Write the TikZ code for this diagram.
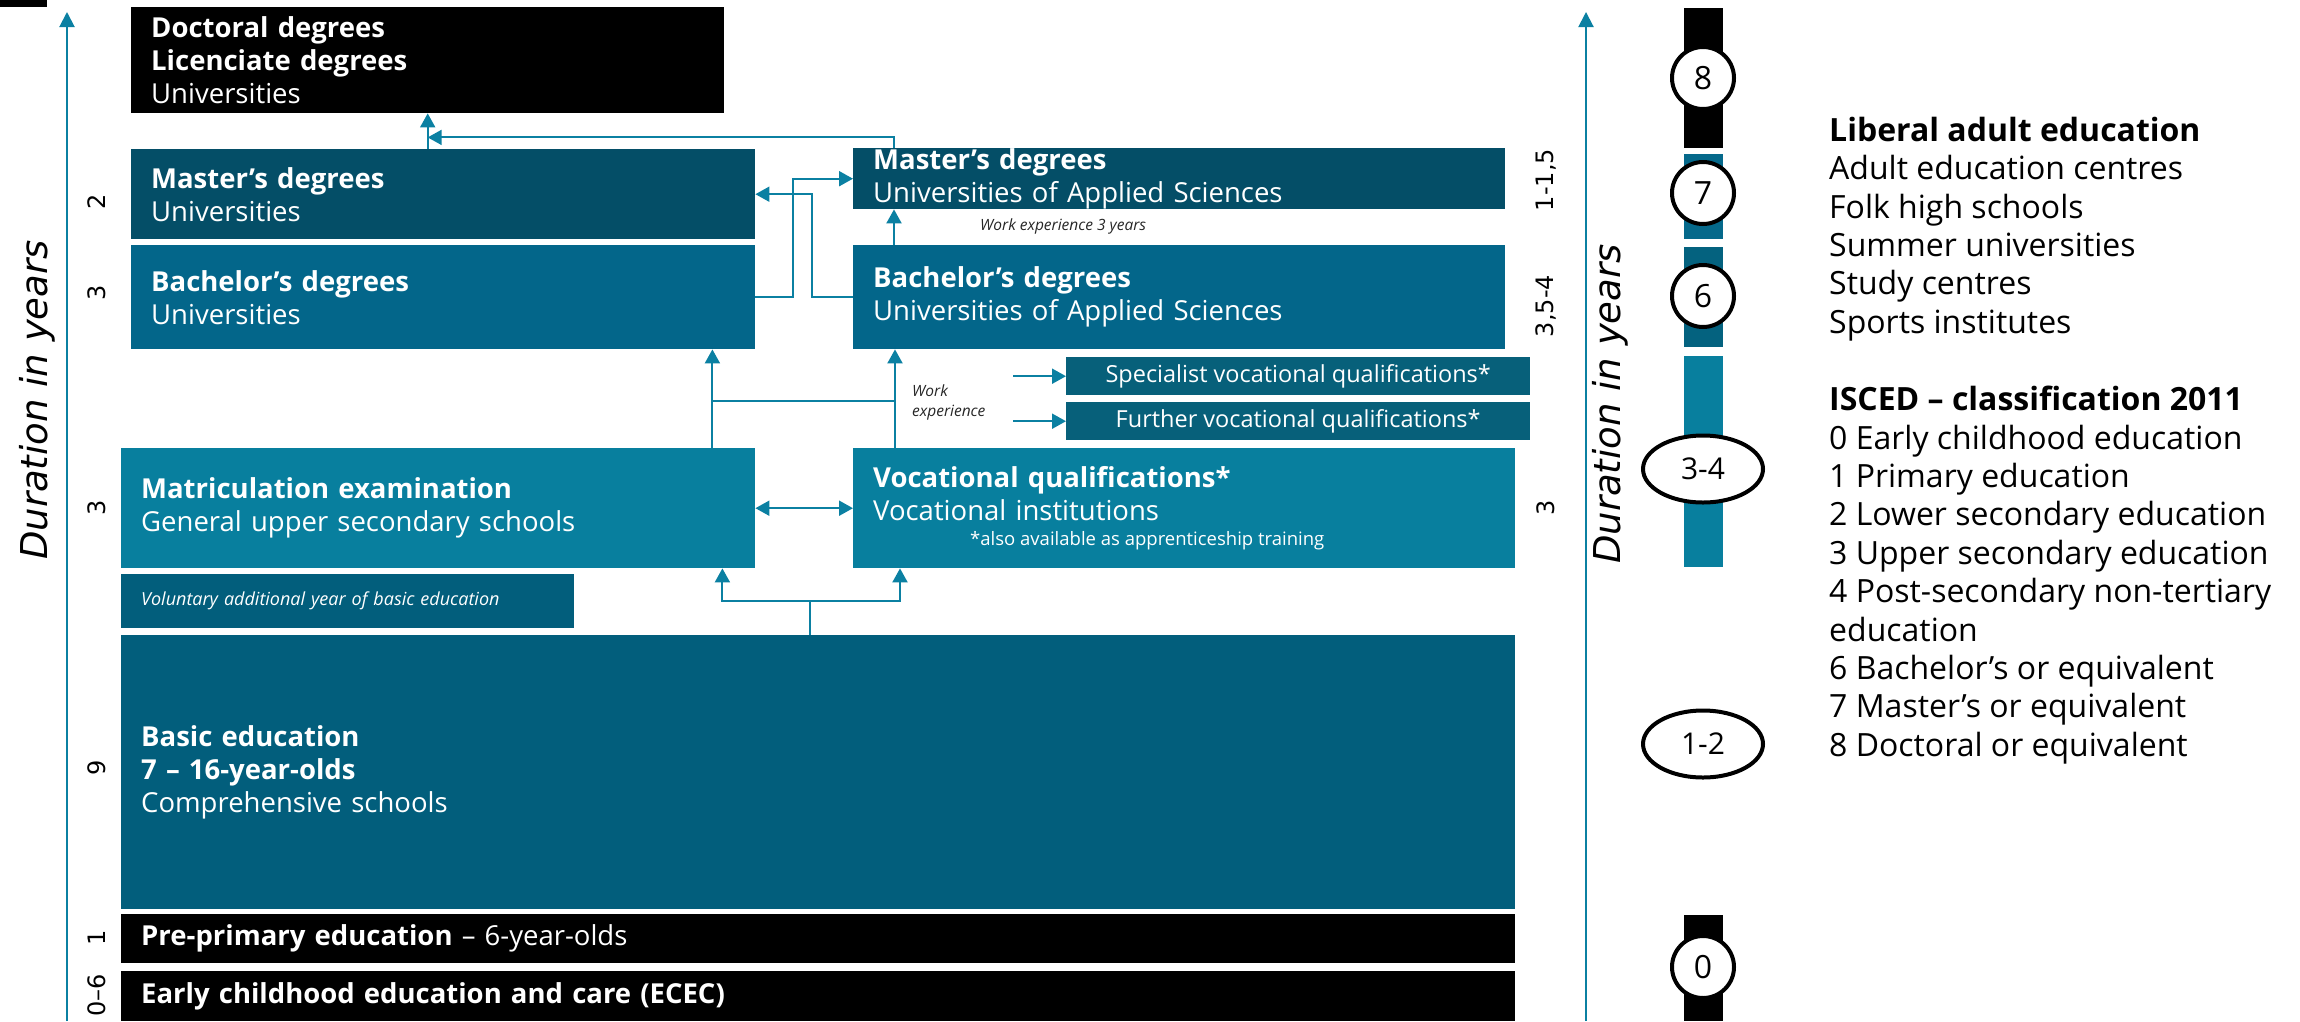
\documentclass[tikz,border=0pt]{standalone}
\usepackage{fontspec}
\setmainfont{Open Sans}
\newfontfamily\dvfont{DejaVu Sans}
\usetikzlibrary{arrows.meta,calc,shapes.geometric}

\definecolor{mastc}{HTML}{044E67}
\definecolor{bachc}{HTML}{03668A}
\definecolor{uppc}{HTML}{087F9E}
\definecolor{basc}{HTML}{025E7C}
\definecolor{specc}{HTML}{07607A}
\definecolor{arrc}{HTML}{0B80A2}
\definecolor{segsev}{HTML}{05698B}
\definecolor{segsix}{HTML}{04627F}

\newcommand{\notefont}{\fontsize{18.5}{21}\selectfont\spaceskip=0pt\relax\xspaceskip=0pt\relax}

\tikzset{
  box/.style={anchor=north west, inner xsep=20pt, inner ysep=0pt, text=white,
    align=left, font=\fontsize{27.5}{33}\selectfont},
  cbox/.style={anchor=north west, inner sep=0pt, text=white, align=center,
    fill=specc, minimum width=464pt, minimum height=38pt,
    font=\fontsize{23.5}{28}\selectfont},
  conn/.style={draw=arrc, line width=2pt, -{Triangle[length=14pt,width=15pt]}},
  both/.style={draw=arrc, line width=2pt,
    {Triangle[length=14pt,width=15pt]}-{Triangle[length=14pt,width=15pt]}},
  line/.style={draw=arrc, line width=2pt},
  axis/.style={draw=arrc, line width=2pt, -{Triangle[length=15pt,width=15pt]}},
  yrs/.style={rotate=90, inner sep=0pt, font=\dvfont\fontsize{24}{28}\selectfont},
  dur/.style={rotate=90, inner sep=0pt, font=\dvfont\itshape\fontsize{37}{44}\selectfont},
  note/.style={inner sep=0pt, align=left, text=black!85,
    font=\itshape\fontsize{15.5}{20}\selectfont},
  lvl/.style={circle, draw=black, line width=4pt, fill=white, inner sep=0pt,
    minimum size=62pt, font=\fontsize{32}{38}\selectfont},
  lvlwide/.style={ellipse, draw=black, line width=4pt, fill=white, inner sep=0pt,
    minimum width=120pt, minimum height=67pt, font=\fontsize{30}{36}\selectfont},
  legend/.style={anchor=west, align=left, inner sep=0pt,
    font=\fontsize{32}{38.4}\selectfont},
}

\begin{document}
\begin{tikzpicture}[x=1pt,y=-1pt]
\useasboundingbox (0,0) rectangle (2300,1021);
\fill (0,0) rectangle (47,7);

% duration axes
\coordinate (lbot) at (67,1021);
\coordinate (ltop) at (67,12);
\coordinate (rbot) at (1586,1021);
\coordinate (rtop) at (1586,12);
\draw[axis] (lbot) -- (ltop);
\draw[axis] (rbot) -- (rtop);
\node[dur] (durl) at (37,400) {Duration in years};
\node[dur] (durr) at (1610,404) {Duration in years};

% boxes
\node[box,fill=black,text width=553pt,minimum height=106pt] (doc) at (131,7)
  {\textbf{Doctoral degrees}\\\textbf{Licenciate degrees}\\Universities};
\node[box,fill=mastc,text width=584pt,minimum height=90pt] (mu) at (131,149)
  {\textbf{Master’s degrees}\\Universities};
\node[box,fill=bachc,text width=584pt,minimum height=104pt] (bu) at (131,245)
  {\textbf{Bachelor’s degrees}\\Universities};
\node[box,fill=mastc,text width=612pt,minimum height=61pt] (muas) at (853,148)
  {\textbf{Master’s degrees}\\Universities of Applied Sciences};
\node[box,fill=bachc,text width=612pt,minimum height=104pt] (buas) at (853,245)
  {\textbf{Bachelor’s degrees}\\Universities of Applied Sciences};
\node[cbox] (spec) at (1066,357) {Specialist vocational qualifications*};
\node[cbox] (furt) at (1066,402) {Further vocational qualifications*};
\node[box,fill=uppc,text width=594pt,minimum height=120pt] (matr) at (121,448)
  {\textbf{Matriculation examination}\\General upper secondary schools};
\node[box,fill=uppc,text width=622pt,minimum height=120pt] (voc) at (853,448)
  {\textbf{Vocational qualifications*}\\Vocational institutions\\[-8pt]\mbox{\notefont\hspace*{97pt}*also available as apprenticeship training}};
\node[box,fill=basc,text width=413pt,minimum height=54pt,
  font=\itshape\fontsize{18}{21}\selectfont] (vol) at (121,574)
  {Voluntary additional year of basic education};
\node[box,fill=basc,text width=1354pt,minimum height=274pt] (basic) at (121,635)
  {\textbf{Basic education}\\\textbf{7 – 16-year-olds}\\Comprehensive schools};
\node[box,fill=black,text width=1354pt,minimum height=49pt] (pre) at (121,914)
  {\textbf{Pre-primary education} – 6-year-olds};
\node[box,fill=black,text width=1354pt,minimum height=50pt] (ecec) at (121,971)
  {\textbf{Early childhood education and care (ECEC)}};

\node[note,anchor=west] (wexpa) at (980,226) {Work experience 3 years};
\node[note,anchor=west] (wexpb) at (912,402) {Work\\experience};

% years
\node[yrs] (ya) at (97,202) {2};
\node[yrs] (yb) at (97,293) {3};
\node[yrs] (yc) at (97,508) {3};
\node[yrs] (yd) at (97,768) {9};
\node[yrs] (ye) at (97,938) {1};
\node[yrs] (yf) at (97,995) {0–6};
\node[yrs] (yg) at (1546,180) {1-1,5};
\node[yrs] (yh) at (1546,306) {3,5-4};
\node[yrs] (yi) at (1546,508) {3};

% connectors
\draw[conn] (mu.north -| doc.south) -- (doc.south);
\draw[conn] ($(muas.north west)+(41,0)$) |- ($(doc.south)+(0,24)$);
\draw[conn] ($(buas.north west)+(41,0)$) -- ($(muas.south west)+(41,0)$);
\draw[conn] (bu.east) -- ++(38,0) |- (muas.west);
\draw[conn] (buas.west) -- ++(-41,0) |- (mu.east);
\draw[conn] ($(matr.north east)+(-43,0)$) -- ($(bu.south east)+(-43,0)$);
\draw[conn] ($(voc.north west)+(42,0)$) -- ($(buas.south west)+(42,0)$);
\draw[line] ($(matr.north east)+(-43,-47)$) -- ($(voc.north west)+(42,-47)$);
\draw[conn] ($(spec.west)+(-53,0)$) -- (spec.west);
\draw[conn] ($(furt.west)+(-53,0)$) -- (furt.west);
\draw[both] (matr.east) -- (voc.west);
\draw[conn] ($(basic.north west)+(689,0)$) -- ++(0,-34) -| ($(matr.south east)+(-33,0)$);
\draw[conn] ($(basic.north west)+(689,-34)$) -| ($(voc.south west)+(47,0)$);

% isced levels
\fill[black] (1684,8) rectangle (1723,148);
\fill[segsev] (1684,154) rectangle (1723,239);
\fill[segsix] (1684,247) rectangle (1723,347);
\fill[uppc] (1684,356) rectangle (1723,567);
\fill[black] (1684,915) rectangle (1723,1021);
\node[lvl] (leight) at (1703,78) {8};
\node[lvl] (lseven) at (1703,193) {7};
\node[lvl] (lsix) at (1703,296) {6};
\node[lvlwide] (lthree) at (1703,469) {3-4};
\node[lvlwide] (lone) at (1703,744) {1-2};
\node[lvl] (lzero) at (1703,967) {0};

% legend
\node[legend] (liberal) at (1829,229)
  {\textbf{Liberal adult education}\\Adult education centres\\Folk high schools\\Summer universities\\Study centres\\Sports institutes};
\node[legend] (isced) at (1829,575)
  {\textbf{ISCED – classification 2011}\\0 Early childhood education\\1 Primary education\\2 Lower secondary education\\3 Upper secondary education\\4 Post-secondary non-tertiary\\education\\6 Bachelor’s or equivalent\\7 Master’s or equivalent\\8 Doctoral or equivalent};
\end{tikzpicture}
\end{document}
